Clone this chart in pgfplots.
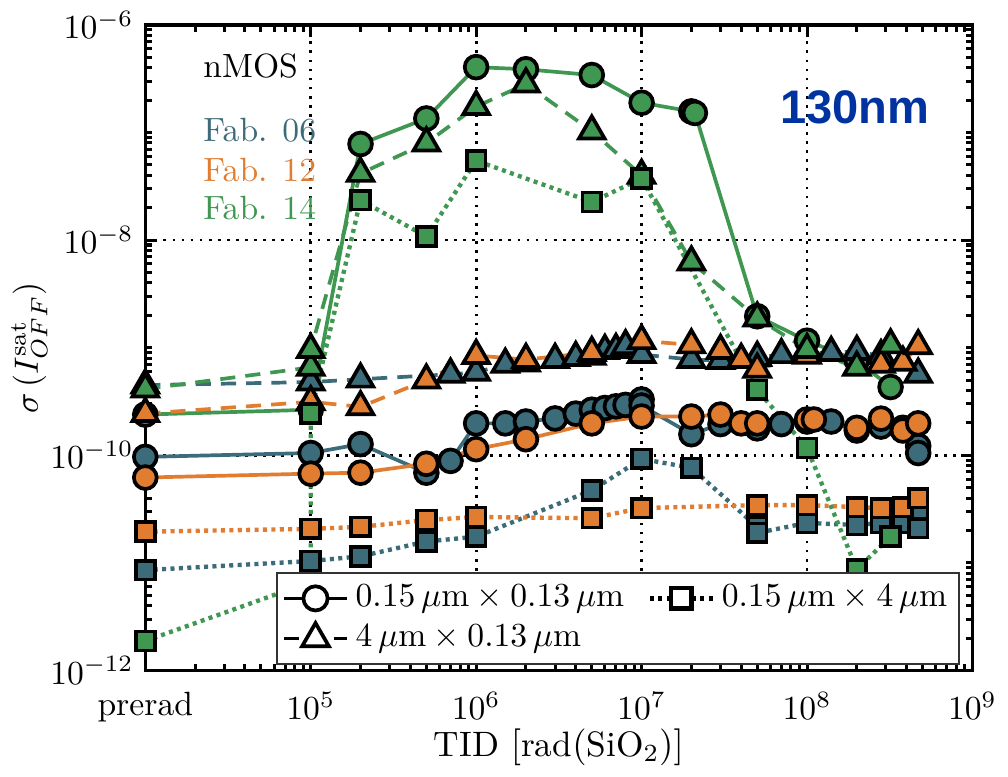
\documentclass[border=0pt]{standalone}
\usepackage{fontspec}
\usepackage{pgfplots}
\pgfplotsset{compat=1.18}
\newfontfamily\arialfont{Liberation Sans}

\definecolor{fab06}{RGB}{60,107,121}
\definecolor{fab12}{RGB}{225,125,49}
\definecolor{fab14}{RGB}{63,151,81}
\definecolor{nmblue}{RGB}{0,51,160}

\pgfplotsset{
  ser/.style={color=#1, line width=1.1pt,
    mark options={solid, draw=black, fill=#1, line width=1.1pt}},
  circ/.style={ser=#1, solid, mark=*, mark size=3.4pt},
  tri/.style={ser=#1, dash pattern=on 4.5pt off 3pt, mark=triangle*, mark size=4.4pt},
  sqr/.style={ser=#1, line width=1.3pt, dash pattern=on 1.2pt off 1.3pt, mark=square*, mark size=2.8pt},
}

\begin{document}
\begin{tikzpicture}
\begin{axis}[
  scale only axis, width=246pt, height=192pt,
  xmode=log, ymode=log,
  xmin=1e4, xmax=1e9, ymin=1e-12, ymax=1e-6,
  xtick={1e4,1e5,1e6,1e7,1e8,1e9},
  xticklabels={prerad,$10^{5}$,$10^{6}$,$10^{7}$,$10^{8}$,$10^{9}$},
  ytick={1e-12,1e-10,1e-8,1e-6},
  minor xtick={2e4,3e4,4e4,5e4,6e4,7e4,8e4,9e4,
    2e5,3e5,4e5,5e5,6e5,7e5,8e5,9e5,
    2e6,3e6,4e6,5e6,6e6,7e6,8e6,9e6,
    2e7,3e7,4e7,5e7,6e7,7e7,8e7,9e7,
    2e8,3e8,4e8,5e8,6e8,7e8,8e8,9e8},
  minor ytick={2e-12,3e-12,4e-12,5e-12,6e-12,7e-12,8e-12,9e-12,1e-11,
    2e-11,3e-11,4e-11,5e-11,6e-11,7e-11,8e-11,9e-11,
    2e-10,3e-10,4e-10,5e-10,6e-10,7e-10,8e-10,9e-10,1e-9,
    2e-9,3e-9,4e-9,5e-9,6e-9,7e-9,8e-9,9e-9,
    2e-8,3e-8,4e-8,5e-8,6e-8,7e-8,8e-8,9e-8,1e-7,
    2e-7,3e-7,4e-7,5e-7,6e-7,7e-7,8e-7,9e-7},
  grid=major,
  major grid style={black, line width=0.8pt, dash pattern=on 0.8pt off 1.9pt},
  axis line style={line width=1pt},
  every tick/.style={black, line width=0.9pt},
  major tick length=3.5pt, minor tick length=2pt,
  xticklabel style={yshift=-3pt},
  xlabel={TID $\left[\mathrm{rad}(\mathrm{SiO_2})\right]$},
  ylabel={$\sigma\left(I_{OFF}^{\mathrm{sat}}\right)$},
  xlabel style={yshift=5pt, font=\fontsize{10.5}{12}\selectfont},
  ylabel style={yshift=-6pt},
  legend columns=2,
  legend cell align=left,
  legend style={at={(0.985,0.009)}, anchor=south east, draw=black!80,
    line width=0.6pt, inner sep=1.5pt,
    /tikz/every even column/.append style={column sep=5pt}},
  legend image code/.code={\draw[mark repeat=2,mark phase=2]
    plot coordinates {(0cm,0cm) (0.33cm,0cm) (0.66cm,0cm)};},
]
% legend entries
\addlegendimage{black, line width=1.1pt, solid, mark=*, mark size=3.6pt, mark options={fill=white, solid}}
\addlegendentry{$0.15\,\mu\mathrm{m}\times0.13\,\mu\mathrm{m}$}
\addlegendimage{black, line width=1.3pt, dash pattern=on 1.2pt off 1.3pt, mark=square*, mark size=3pt, mark options={fill=white, solid}}
\addlegendentry{$0.15\,\mu\mathrm{m}\times4\,\mu\mathrm{m}$}
\addlegendimage{black, line width=1.1pt, dash pattern=on 4.5pt off 3pt, mark=triangle*, mark size=4.6pt, mark options={fill=white, solid}}
\addlegendentry{$4\,\mu\mathrm{m}\times0.13\,\mu\mathrm{m}$}

% circles
\addplot[circ=fab06, forget plot] coordinates {(1e4,9.66e-11) (1e5,1.05e-10) (2e5,1.27e-10) (5e5,6.89e-11) (7e5,8.87e-11) (1e6,1.98e-10) (1.5e6,1.98e-10) (2e6,2.06e-10) (3e6,2.2e-10) (4e6,2.44e-10) (5e6,2.65e-10) (6e6,2.75e-10) (7e6,2.85e-10) (8e6,2.94e-10) (1e7,3.3e-10) (1e7,2.9e-10) (2e7,1.57e-10) (3e7,1.95e-10) (5e7,1.78e-10) (7e7,1.95e-10) (1e8,2.06e-10) (1.4e8,2.06e-10) (2e8,1.7e-10) (2.8e8,1.85e-10) (3.8e8,1.8e-10) (4.7e8,1.22e-10) (4.7e8,1.05e-10)};
\addplot[circ=fab12, forget plot] coordinates {(1e4,6.21e-11) (1e5,6.75e-11) (2e5,6.89e-11) (5e5,8.34e-11) (1e6,1.14e-10) (2e6,1.41e-10) (5e6,1.98e-10) (1e7,2.29e-10) (2e7,2.29e-10) (3e7,2.39e-10) (4e7,1.98e-10) (5e7,1.98e-10) (1e8,2.15e-10) (1.1e8,2.15e-10) (2e8,1.8e-10) (2.8e8,2.19e-10) (3.8e8,1.7e-10) (4.7e8,1.98e-10)};
\addplot[circ=fab14, forget plot] coordinates {(1e4,2.39e-10) (1e5,2.65e-10) (2e5,7.82e-8) (5e5,1.35e-7) (1e6,4.05e-7) (2e6,3.87e-7) (5e6,3.42e-7) (1e7,1.89e-7) (2e7,1.57e-7) (2.1e7,1.52e-7) (5e7,1.96e-9) (1e8,1.16e-9) (2e8,7.6e-10) (3.2e8,4.31e-10)};

% triangles
\addplot[tri=fab06, forget plot] coordinates {(1e4,4.49e-10) (1e5,4.79e-10) (2e5,5.09e-10) (7e5,5.66e-10) (1e6,5.9e-10) (1.5e6,7.0e-10) (2e6,7.2e-10) (3e6,7.76e-10) (4e6,8.1e-10) (5e6,8.3e-10) (6e6,9.4e-10) (7e6,9.6e-10) (8e6,1.04e-9) (1e7,8.63e-10) (2e7,7.76e-10) (3e7,7.6e-10) (5e7,8.1e-10) (7e7,8.6e-10) (1.4e8,9.0e-10) (2e8,9.2e-10) (2.8e8,8.4e-10) (4.7e8,5.66e-10)};
\addplot[tri=fab12, forget plot] coordinates {(1e4,2.44e-10) (1e5,3.14e-10) (2e5,2.82e-10) (5e5,4.99e-10) (1e6,8.45e-10) (2e6,7.76e-10) (5e6,9.0e-10) (1e7,1.16e-9) (2e7,1.06e-9) (3e7,9.4e-10) (4e7,7.76e-10) (5e7,6.3e-10) (1e8,8.5e-10) (2.8e8,7.0e-10) (3.8e8,7.3e-10) (4.7e8,1.04e-9)};
\addplot[tri=fab14, forget plot] coordinates {(1e4,4.13e-10) (1e5,6.56e-10) (1e5,9.6e-10) (2e5,4.16e-8) (5e5,7.98e-8) (1e6,1.74e-7) (2e6,2.82e-7) (5e6,1.03e-7) (1e7,3.99e-8) (2e7,6.25e-9) (5e7,1.88e-9) (1e8,9.6e-10) (2e8,6.56e-10) (3.2e8,1.06e-9)};

% squares
\addplot[sqr=fab06, forget plot] coordinates {(1e4,8.57e-12) (1e5,1.04e-11) (2e5,1.15e-11) (5e5,1.58e-11) (1e6,1.75e-11) (5e6,4.72e-11) (1e7,9.25e-11) (2e7,7.65e-11) (5e7,2.16e-11) (5e7,1.9e-11) (1e8,2.35e-11) (2e8,2.25e-11) (2.8e8,2.35e-11) (3.8e8,2.35e-11) (4.7e8,2.67e-11) (4.7e8,2.1e-11)};
\addplot[sqr=fab12, forget plot] coordinates {(1e4,1.95e-11) (1e5,2.07e-11) (2e5,2.16e-11) (5e5,2.5e-11) (1e6,2.67e-11) (5e6,2.6e-11) (1e7,3.23e-11) (5e7,3.44e-11) (1e8,3.44e-11) (2e8,3.3e-11) (2.8e8,3.23e-11) (3.8e8,3.3e-11) (4.7e8,3.99e-11)};
\addplot[sqr=fab14, forget plot] coordinates {(1e4,1.88e-12) (1e5,6.65e-12) (1e5,2.44e-10) (2e5,2.35e-8) (5e5,1.08e-8) (1e6,5.47e-8) (5e6,2.26e-8) (1e7,3.74e-8) (5e7,4.05e-10) (1e8,1.17e-10) (2e8,8.75e-12) (3.2e8,1.75e-11)};

% annotations
\node[anchor=base west] at (rel axis cs:0.056,0.919) {nMOS};
\node[anchor=base west, text=fab06] at (rel axis cs:0.056,0.819) {Fab. 06};
\node[anchor=base west, text=fab12] at (rel axis cs:0.056,0.758) {Fab. 12};
\node[anchor=base west, text=fab14] at (rel axis cs:0.056,0.698) {Fab. 14};
\node[text=nmblue, font=\arialfont\bfseries\fontsize{14}{15}\selectfont] at (rel axis cs:0.858,0.873) {130nm};
\end{axis}
\end{tikzpicture}
\end{document}
